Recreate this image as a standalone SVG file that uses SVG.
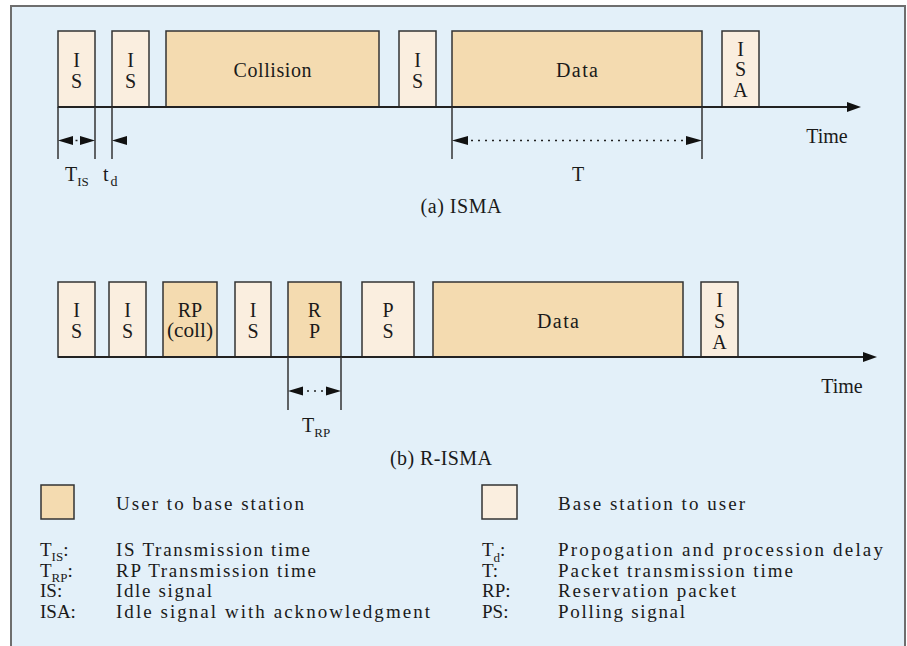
<svg xmlns="http://www.w3.org/2000/svg" width="907" height="646" viewBox="0 0 907 646">
<style>
text{font-family:"Liberation Serif","Times New Roman",serif;fill:#1a1a1a}
.t{font-size:20px;text-anchor:middle}
.l{font-size:19px}
.s{font-size:13px}
.u{fill:#F4DBB0;stroke:#333;stroke-width:1.5}
.b{fill:#FAEEDF;stroke:#333;stroke-width:1.5}
.ax{stroke:#222;stroke-width:1.8;fill:none}
.tk{stroke:#333;stroke-width:1.5;fill:none}
.dt{stroke:#222;stroke-width:1.5;stroke-dasharray:2 5;fill:none}
.ah{fill:#111}
</style>
<rect x="11" y="6" width="894" height="660" fill="#E3F0F9" stroke="#6e6e6e" stroke-width="2"/>

<!-- Row (a) -->
<g id="a-is1"><rect class="b" x="58" y="31" width="37" height="76"/><text class="t" x="76.5" y="67">I</text><text class="t" x="76.5" y="88">S</text></g>
<g id="a-is2"><rect class="b" x="112" y="31" width="37" height="76"/><text class="t" x="130.5" y="67">I</text><text class="t" x="130.5" y="88">S</text></g>
<g id="a-collision"><rect class="u" x="166" y="31" width="213" height="76"/><text class="t" x="272.5" y="77" textLength="78" lengthAdjust="spacing">Collision</text></g>
<g id="a-is3"><rect class="b" x="399" y="31" width="37" height="76"/><text class="t" x="417.5" y="67">I</text><text class="t" x="417.5" y="88">S</text></g>
<g id="a-data"><rect class="u" x="452" y="31" width="250" height="76"/><text class="t" x="577" y="77" textLength="42" lengthAdjust="spacing">Data</text></g>
<g id="a-isa"><rect class="b" x="722" y="31" width="37" height="76"/><text class="t" x="740.5" y="56">I</text><text class="t" x="740.5" y="76">S</text><text class="t" x="740.5" y="97">A</text></g>

<!-- Row (b) -->
<g id="b-is1"><rect class="b" x="58" y="282" width="37" height="75"/><text class="t" x="76.5" y="317">I</text><text class="t" x="76.5" y="338">S</text></g>
<g id="b-is2"><rect class="b" x="109" y="282" width="37" height="75"/><text class="t" x="127.5" y="317">I</text><text class="t" x="127.5" y="338">S</text></g>
<g id="b-rpcoll"><rect class="u" x="163" y="282" width="54" height="75"/><text class="t" x="190" y="317">RP</text><text class="t" x="190" y="337" textLength="46" lengthAdjust="spacingAndGlyphs">(coll)</text></g>
<g id="b-is3"><rect class="b" x="235" y="282" width="36" height="75"/><text class="t" x="253" y="317">I</text><text class="t" x="253" y="338">S</text></g>
<g id="b-rp"><rect class="u" x="288" y="282" width="53" height="75"/><text class="t" x="314.5" y="317">R</text><text class="t" x="314.5" y="338">P</text></g>
<g id="b-ps"><rect class="b" x="362" y="282" width="52" height="75"/><text class="t" x="388" y="317">P</text><text class="t" x="388" y="338">S</text></g>
<g id="b-data"><rect class="u" x="433" y="282" width="250" height="75"/><text class="t" x="558" y="328" textLength="42" lengthAdjust="spacing">Data</text></g>
<g id="b-isa"><rect class="b" x="701" y="282" width="37" height="75"/><text class="t" x="719.5" y="307">I</text><text class="t" x="719.5" y="328">S</text><text class="t" x="719.5" y="349">A</text></g>

<!-- Connectors: axes, ticks, dimension arrows -->
<g id="connectors">
<line class="ax" x1="58" y1="107" x2="848" y2="107"/>
<polygon class="ah" points="847,102 861,107 847,112"/>
<line class="ax" x1="58" y1="357" x2="864" y2="357"/>
<polygon class="ah" points="863,352 877,357 863,362"/>

<line class="tk" x1="58" y1="107" x2="58" y2="159"/>
<line class="tk" x1="95" y1="107" x2="95" y2="159"/>
<line class="tk" x1="112" y1="107" x2="112" y2="159"/>
<line class="tk" x1="452" y1="107" x2="452" y2="159"/>
<line class="tk" x1="702" y1="107" x2="702" y2="159"/>
<line class="tk" x1="288" y1="357" x2="288" y2="410"/>
<line class="tk" x1="341" y1="357" x2="341" y2="410"/>

<polygon class="ah" points="58,140.5 73,136 73,145"/>
<polygon class="ah" points="95,140.5 80,136 80,145"/>
<line class="dt" x1="75.5" y1="140.5" x2="77.5" y2="140.5"/>
<polygon class="ah" points="112,140.5 127,136 127,145"/>

<polygon class="ah" points="452,140.5 468,136 468,145"/>
<polygon class="ah" points="702,140.5 686,136 686,145"/>
<line class="dt" x1="471" y1="140.5" x2="684" y2="140.5"/>

<polygon class="ah" points="288,391 303,386.5 303,395.5"/>
<polygon class="ah" points="341,391 326,386.5 326,395.5"/>
<line class="dt" x1="307" y1="391" x2="324" y2="391"/>
</g>

<!-- Labels (a) -->
<text style="font-size:20px" x="65" y="181">T<tspan class="s" dy="5">IS</tspan></text>
<text style="font-size:20px" x="103" y="181">t<tspan style="font-size:14px" dx="2" dy="5">d</tspan></text>
<text class="t" x="578" y="181">T</text>
<text class="t" x="827" y="143">Time</text>
<text class="t" x="461" y="213" textLength="81" lengthAdjust="spacing">(a) ISMA</text>

<!-- Labels (b) -->
<text style="font-size:20px" x="302" y="432">T<tspan class="s" dy="5">RP</tspan></text>
<text class="t" x="842" y="393">Time</text>
<text class="t" x="441" y="465" textLength="102" lengthAdjust="spacing">(b) R-ISMA</text>

<!-- Legend -->
<g id="legend-user"><rect class="u" x="41" y="485" width="33" height="34"/><text class="l" x="116" y="510" textLength="188" lengthAdjust="spacing">User to base station</text></g>
<g id="legend-base"><rect class="b" x="482" y="485" width="35" height="34"/><text class="l" x="558" y="510" textLength="187" lengthAdjust="spacing">Base station to user</text></g>

<g id="legend-defs">
<text class="l" x="40" y="556">T<tspan class="s" dy="5">IS</tspan><tspan dy="-5">:</tspan></text>
<text class="l" x="116" y="556" textLength="194" lengthAdjust="spacing">IS Transmission time</text>
<text class="l" x="40" y="577">T<tspan class="s" dy="5">RP</tspan><tspan dy="-5">:</tspan></text>
<text class="l" x="116" y="577" textLength="200" lengthAdjust="spacing">RP Transmission time</text>
<text class="l" x="40" y="597">IS:</text>
<text class="l" x="116" y="597" textLength="96" lengthAdjust="spacing">Idle signal</text>
<text class="l" x="40" y="618">ISA:</text>
<text class="l" x="116" y="618" textLength="314" lengthAdjust="spacing">Idle signal with acknowledgment</text>

<text class="l" x="482" y="556">T<tspan class="s" dy="6">d</tspan><tspan dy="-6">:</tspan></text>
<text class="l" x="558" y="556" textLength="325" lengthAdjust="spacing">Propogation and procession delay</text>
<text class="l" x="482" y="577">T:</text>
<text class="l" x="558" y="577" textLength="235" lengthAdjust="spacing">Packet transmission time</text>
<text class="l" x="482" y="597">RP:</text>
<text class="l" x="558" y="597" textLength="178" lengthAdjust="spacing">Reservation packet</text>
<text class="l" x="482" y="618">PS:</text>
<text class="l" x="558" y="618" textLength="127" lengthAdjust="spacing">Polling signal</text>
</g>
</svg>
